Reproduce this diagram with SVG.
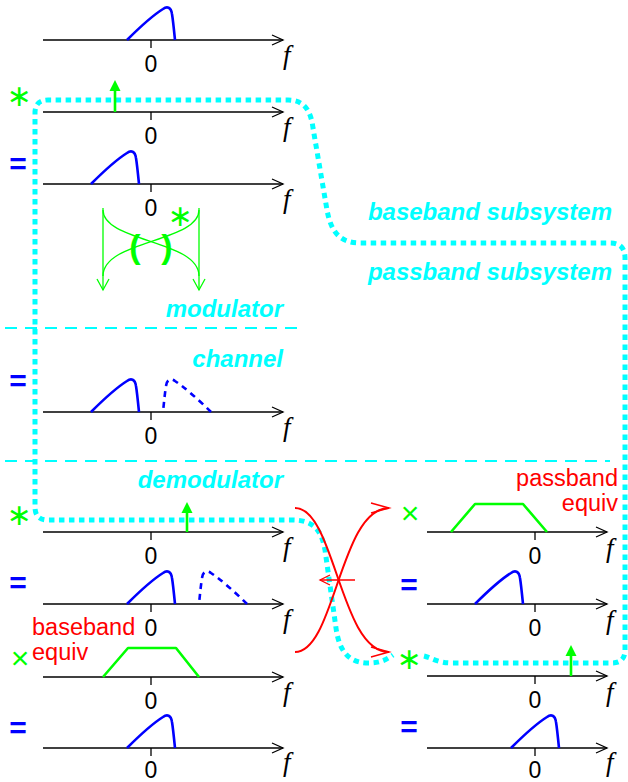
<svg xmlns="http://www.w3.org/2000/svg" width="628" height="782" viewBox="0 0 628 782">
<defs>
<style>
.ax{stroke:#000;stroke-width:1.3;fill:none}
.tk{stroke:#000;stroke-width:1.3}
.zero{font-family:"Liberation Sans",Arial,sans-serif;font-size:23px;text-anchor:middle;fill:#000}
.f{font-family:"Liberation Serif","Times New Roman",serif;font-style:italic;font-size:27px;fill:#000}
.bl{stroke:#0000ff;stroke-width:2.6;fill:none;stroke-linejoin:round}
.bld{stroke:#0000ff;stroke-width:2.6;fill:none;stroke-dasharray:6 5}
.gr{stroke:#00ff00;stroke-width:2.6;fill:none;stroke-linejoin:round}
.grt{stroke:#00ff00;stroke-width:1.3;fill:none}
.gh{fill:#00ff00;stroke:none}
.eq{font-family:"Liberation Sans",Arial,sans-serif;font-size:30px;font-weight:bold;fill:#0000ff;text-anchor:middle}
.ast{font-family:"DejaVu Sans",sans-serif;font-size:30px;fill:#00ff00;text-anchor:middle}
.tim{font-family:"Liberation Sans",Arial,sans-serif;font-size:32px;fill:#00ff00;text-anchor:middle}
.par{font-family:"Liberation Sans",Arial,sans-serif;font-size:34px;font-weight:bold;fill:#00ff00;text-anchor:middle}
.lab{font-family:"Liberation Sans",Arial,sans-serif;font-size:24px;font-weight:bold;font-style:italic;fill:#00ffff;text-anchor:end}
.red{font-family:"Liberation Sans",Arial,sans-serif;font-size:23.5px;fill:#ff0000}
.sep{stroke:#00ffff;stroke-width:2;stroke-dasharray:12 8;fill:none}
.loop{stroke:#00ffff;stroke-width:5;stroke-dasharray:5.5 4.5;fill:none}
.rc{stroke:#ff0000;stroke-width:2;fill:none}
</style>
<marker id="ach" markerUnits="userSpaceOnUse" markerWidth="16" markerHeight="16" viewBox="-13 -8 16 16" refX="0" refY="0" orient="auto" overflow="visible"><path d="M-11,-5 L0,0 L-11,5" fill="none" stroke="#000" stroke-width="1.3"/></marker>
<marker id="gch" markerUnits="userSpaceOnUse" markerWidth="16" markerHeight="16" viewBox="-13 -8 16 16" refX="0" refY="0" orient="auto" overflow="visible"><path d="M-11,-6 L0,0 L-11,6" fill="none" stroke="#00ff00" stroke-width="1.3"/></marker>
<marker id="rch" markerUnits="userSpaceOnUse" markerWidth="22" markerHeight="16" viewBox="-20 -8 22 16" refX="0" refY="0" orient="auto" overflow="visible"><path d="M-18,-5 L0,0 L-18,5" fill="none" stroke="#ff0000" stroke-width="1.5"/></marker>
<marker id="rch2" markerUnits="userSpaceOnUse" markerWidth="16" markerHeight="16" viewBox="-13 -8 16 16" refX="0" refY="0" orient="auto" overflow="visible"><path d="M-10,-5 L0,0 L-10,5" fill="none" stroke="#ff0000" stroke-width="1.3"/></marker>
<path id="spec" d="M0,0 C12,-12 28,-26 36,-31 C40,-34 44,-33 45,-26 C46,-20 47,-10 48,0"/>
</defs>

<g id="connectors">
<path class="loop" d="M424,656 C432,658 438,663 452,663 L612,663 Q625,663 625,650 L625,258 Q625,243 610,243 L360,243 C340,243 331,232 327,210 L313,128 C311,112 305,100 288,100 L48,100 Q35,100 35,113 L35,507 Q35,520 48,520 L292,520 C312,520 321,528 325,550 L336,628 C339,650 348,663 368,663 C380,663 386,660 393,655"/>
<path class="sep" d="M5,328 L305,328"/>
<path class="sep" d="M5,461 L610,461"/>
<path class="rc" d="M295,508 C335,508 340,652 389,652" marker-end="url(#rch)"/>
<path class="rc" d="M295,652 C335,652 340,508 389,508" marker-end="url(#rch)"/>
<path class="rc" style="stroke-width:1.5" d="M355,580 L320,580" marker-end="url(#rch2)"/>
</g>

<g id="labels">
<text class="lab" x="612" y="220">baseband subsystem</text>
<text class="lab" x="612" y="280">passband subsystem</text>
<text class="lab" x="283" y="317">modulator</text>
<text class="lab" x="283" y="367">channel</text>
<text class="lab" x="283" y="488">demodulator</text>
</g>

<g id="row1">
<path class="ax" d="M43,40 L283,40" marker-end="url(#ach)"/>
<line class="tk" x1="151" y1="40" x2="151" y2="48"/>
<text class="zero" x="151" y="72">0</text>
<text class="f" x="283" y="64">f</text>
<use href="#spec" class="bl" transform="translate(127,40)"/>
</g>

<g id="row2">
<text class="ast" x="19" y="106">∗</text>
<path class="ax" d="M43,112 L283,112" marker-end="url(#ach)"/>
<line class="tk" x1="151" y1="112" x2="151" y2="120"/>
<text class="zero" x="151" y="144">0</text>
<text class="f" x="283" y="136">f</text>
<line x1="115" y1="112" x2="115" y2="88" stroke="#00ff00" stroke-width="2.6"/>
<polygon class="gh" points="109.5,91 115,80 120.5,91"/>
</g>

<g id="row3">
<text class="eq" x="18" y="174">=</text>
<path class="ax" d="M43,184 L283,184" marker-end="url(#ach)"/>
<line class="tk" x1="151" y1="184" x2="151" y2="192"/>
<text class="zero" x="151" y="216">0</text>
<text class="f" x="283" y="208">f</text>
<use href="#spec" class="bl" transform="translate(91,184)"/>
</g>

<g id="modsym">
<path class="grt" d="M103,208 L103,290" marker-end="url(#gch)"/>
<path class="grt" d="M199,208 L199,290" marker-end="url(#gch)"/>
<path class="grt" d="M103,210 C103,242 199,240 199,276"/>
<path class="grt" d="M199,210 C199,242 103,240 103,276"/>
<text class="par" x="135" y="258">(</text>
<text class="par" x="167" y="258">)</text>
<text class="ast" x="180" y="226">∗</text>
</g>

<g id="row4">
<text class="eq" x="18" y="391">=</text>
<path class="ax" d="M43,412 L283,412" marker-end="url(#ach)"/>
<line class="tk" x1="151" y1="412" x2="151" y2="420"/>
<text class="zero" x="151" y="444">0</text>
<text class="f" x="283" y="436">f</text>
<use href="#spec" class="bl" transform="translate(91,412)"/>
<use href="#spec" class="bld" transform="translate(211,412) scale(-1,1)"/>
</g>

<g id="row5">
<text class="ast" x="19" y="525">∗</text>
<path class="ax" d="M43,532 L283,532" marker-end="url(#ach)"/>
<line class="tk" x1="151" y1="532" x2="151" y2="540"/>
<text class="zero" x="151" y="564">0</text>
<text class="f" x="283" y="556">f</text>
<line x1="187" y1="532" x2="187" y2="510" stroke="#00ff00" stroke-width="2.6"/>
<polygon class="gh" points="181.5,513 187,502 192.5,513"/>
</g>

<g id="row6">
<text class="eq" x="18" y="593">=</text>
<path class="ax" d="M43,604 L283,604" marker-end="url(#ach)"/>
<line class="tk" x1="151" y1="604" x2="151" y2="612"/>
<text class="zero" x="151" y="636">0</text>
<text class="f" x="283" y="628">f</text>
<use href="#spec" class="bl" transform="translate(127,604)"/>
<use href="#spec" class="bld" transform="translate(247,604) scale(-1,1)"/>
</g>

<g id="row7">
<text class="red" x="32" y="635">baseband</text>
<text class="red" x="32" y="660">equiv</text>
<text class="tim" x="20" y="669">×</text>
<path class="ax" d="M43,677 L283,677" marker-end="url(#ach)"/>
<line class="tk" x1="151" y1="677" x2="151" y2="685"/>
<text class="zero" x="151" y="709">0</text>
<text class="f" x="283" y="701">f</text>
<path class="gr" d="M103,677 L128,648 L176,648 L199,677"/>
</g>

<g id="row8">
<text class="eq" x="18" y="738">=</text>
<path class="ax" d="M43,748 L283,748" marker-end="url(#ach)"/>
<line class="tk" x1="151" y1="748" x2="151" y2="756"/>
<text class="zero" x="151" y="778">0</text>
<text class="f" x="283" y="771">f</text>
<use href="#spec" class="bl" transform="translate(127,748)"/>
</g>

<g id="rrow1">
<text class="red" x="618" y="486" text-anchor="end">passband</text>
<text class="red" x="618" y="511" text-anchor="end">equiv</text>
<text class="tim" x="410" y="524">×</text>
<path class="ax" d="M427,532 L607,532" marker-end="url(#ach)"/>
<line class="tk" x1="535" y1="532" x2="535" y2="540"/>
<text class="zero" x="535" y="564">0</text>
<text class="f" x="606" y="557">f</text>
<path class="gr" d="M451,532 L475,504 L523,504 L547,532"/>
</g>

<g id="rrow2">
<text class="eq" x="409" y="595">=</text>
<path class="ax" d="M427,604 L607,604" marker-end="url(#ach)"/>
<line class="tk" x1="535" y1="604" x2="535" y2="612"/>
<text class="zero" x="535" y="636">0</text>
<text class="f" x="606" y="629">f</text>
<use href="#spec" class="bl" transform="translate(475,604)"/>
</g>

<g id="rrow3">
<text class="ast" x="409" y="669">∗</text>
<path class="ax" d="M427,676 L607,676" marker-end="url(#ach)"/>
<line class="tk" x1="535" y1="676" x2="535" y2="684"/>
<text class="zero" x="535" y="708">0</text>
<text class="f" x="606" y="701">f</text>
<line x1="571" y1="676" x2="571" y2="653" stroke="#00ff00" stroke-width="2.6"/>
<polygon class="gh" points="565.5,656 571,645 576.5,656"/>
</g>

<g id="rrow4">
<text class="eq" x="409" y="737">=</text>
<path class="ax" d="M427,748 L607,748" marker-end="url(#ach)"/>
<line class="tk" x1="535" y1="748" x2="535" y2="756"/>
<text class="zero" x="535" y="778">0</text>
<text class="f" x="606" y="771">f</text>
<use href="#spec" class="bl" transform="translate(511,748)"/>
</g>
</svg>
